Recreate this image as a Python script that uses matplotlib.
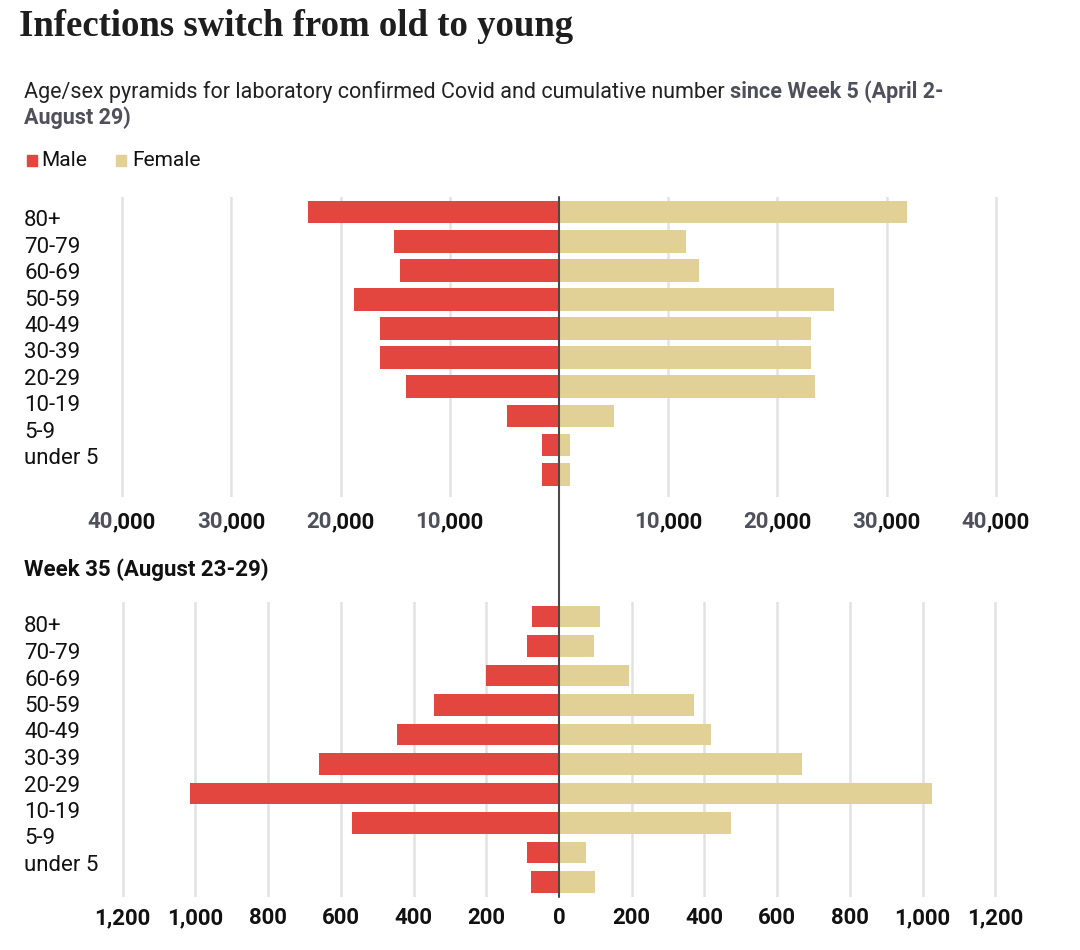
import matplotlib.pyplot as plt
from matplotlib.patches import ConnectionPatch, Rectangle

ages = ["80+", "70-79", "60-69", "50-59", "40-49", "30-39", "20-29", "10-19", "5-9", "under 5"]

# cumulative since week 5
total_male = [23000, 15100, 14600, 18800, 16400, 16400, 14000, 4800, 1600, 1600]
total_female = [31900, 11600, 12800, 25200, 23100, 23100, 23400, 5000, 1000, 1000]

# week 35
week_male = [75, 88, 200, 344, 445, 659, 1014, 568, 89, 76]
week_female = [113, 96, 193, 370, 419, 668, 1025, 473, 74, 98]

top_ticks = [10000, 20000, 30000, 40000]
bottom_ticks = [200, 400, 600, 800, 1000, 1200]

RED = "#e3463e"
TAN = "#e2d196"
GREY_TXT = "#50505c"
GRID = "#e2e2e2"
SANS = ["Roboto", "DejaVu Sans"]
SERIF = ["Liberation Serif", "DejaVu Serif"]

W, H = 1080, 950
fig = plt.figure(figsize=(W / 100, H / 100), dpi=100)


def px(x, y):
    return x / W, 1 - y / H


# title, subtitle, legend
fig.text(*px(19, 27), "Infections switch from old to young", family=SERIF,
         weight="bold", fontsize=26.5, color="#1e1e1e", va="center", ha="left")

t1 = fig.text(*px(24, 92), "Age/sex pyramids for laboratory confirmed Covid and cumulative number ",
              family=SANS, fontsize=15.5, color="#222222", va="center", ha="left")
fig.canvas.draw()
bb = t1.get_window_extent()
fig.text(bb.x1 / W, 1 - 92 / H, "since Week 5 (April 2-", family=SANS, fontsize=15.5,
         weight="bold", color=GREY_TXT, va="center", ha="left")
fig.text(*px(24, 118), "August 29)", family=SANS, fontsize=15.5, weight="bold",
         color=GREY_TXT, va="center", ha="left")

fig.add_artist(Rectangle(px(27, 166), 10 / W, 11 / H, transform=fig.transFigure, color=RED))
fig.text(*px(41, 160), "Male", family=SANS, fontsize=15, color="#111111", va="center")
fig.add_artist(Rectangle(px(116, 166), 10 / W, 11 / H, transform=fig.transFigure, color=TAN))
fig.text(*px(132, 160), "Female", family=SANS, fontsize=15, color="#111111", va="center")

fig.text(*px(24, 570), "Week 35 (August 23-29)", family=SANS, fontsize=16,
         weight="bold", color="#111111", va="center")

pos = list(range(len(ages) - 1, -1, -1))
left, right = 98, 1020


def pyramid(top, bottom, male, female, half, ylim, ticks, lab_top, lab_step, height):
    ax = fig.add_axes([left / W, 1 - bottom / H, (right - left) / W, (bottom - top) / H])
    ax.barh(pos, [-v for v in male], height=height, color=RED, zorder=2)
    ax.barh(pos, female, height=height, color=TAN, zorder=2)
    for t in ticks:
        ax.axvline(t, color=GRID, lw=1.8, zorder=1)
        ax.axvline(-t, color=GRID, lw=1.8, zorder=1)
    ax.set_xlim(-half, half)
    ax.set_ylim(*ylim)
    ax.set_yticks([])
    ax.set_xticks([])
    for s in ax.spines.values():
        s.set_visible(False)
    for i, a in enumerate(ages):
        fig.text(24 / W, 1 - (lab_top + i * lab_step) / H, a, family=SANS, fontsize=16,
                 color="#111111", va="center", ha="left")
    return ax


ax1 = pyramid(197, 497, total_male, total_female, 42200, (-0.78, 9.515),
              top_ticks, 221, 26.4, 0.78)
ax2 = pyramid(602, 897, week_male, week_female, 1268, (-0.516, 9.5),
              bottom_ticks, 627, 26.5, 0.73)

# tick labels: top panel has grey thousands prefix, black ",000"
lab_y1 = 1 - 522 / H
tick_kw = dict(family=SANS, fontsize=16, weight="bold", va="center")
for t in top_ticks:
    for sx in (-1, 1):
        xf = ax1.transData.transform((sx * t, 0))[0]
        full = f"{t:,}"
        head, tail = full.split(",", 1)
        tmp = fig.text(xf / W, lab_y1, full, ha="center", **tick_kw)
        fig.canvas.draw()
        x0 = tmp.get_window_extent().x0
        tmp.remove()
        h = fig.text(x0 / W, lab_y1, head, ha="left", color=GREY_TXT, **tick_kw)
        fig.canvas.draw()
        fig.text(h.get_window_extent().x1 / W, lab_y1, "," + tail, ha="left",
                 color="#111111", **tick_kw)

lab_y2 = 1 - 918 / H
for t in [0] + bottom_ticks:
    for sx in ((1,) if t == 0 else (-1, 1)):
        xf = ax2.transData.transform((sx * t, 0))[0]
        fig.text(xf / W, lab_y2, f"{t:,}", ha="center", color="#111111", **tick_kw)

# center line running through both panels
fig.add_artist(ConnectionPatch(xyA=(0, 9.515), coordsA=ax1.transData,
                               xyB=(0, -0.516), coordsB=ax2.transData,
                               color="#4a4a4a", lw=1.5, zorder=5))

fig.savefig("out.png", dpi=100)
